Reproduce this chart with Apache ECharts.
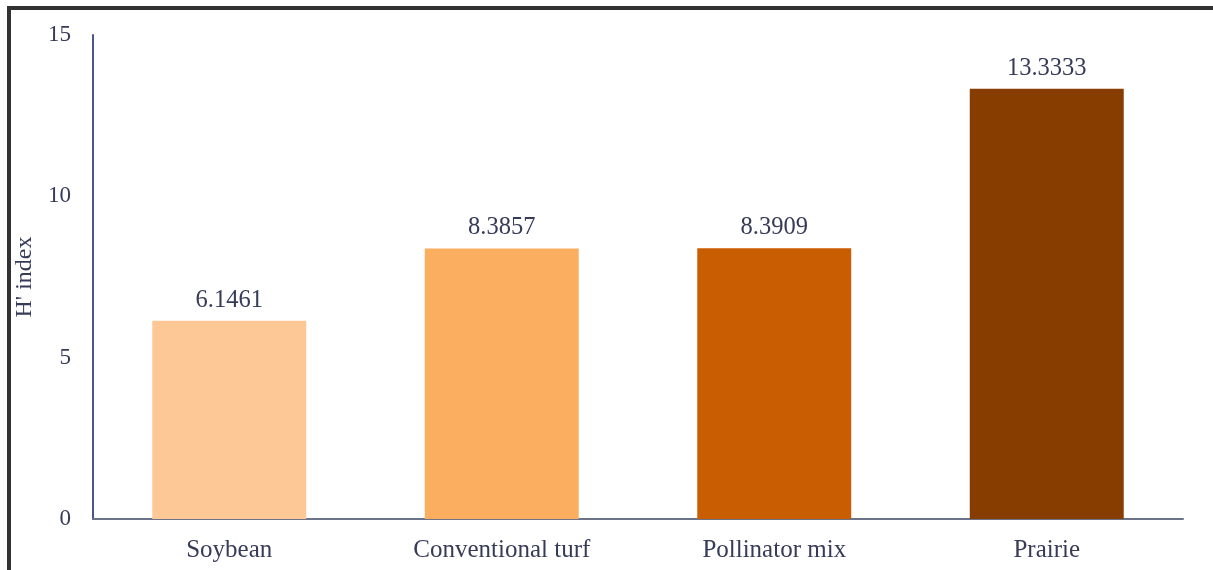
<!DOCTYPE html>
<html>
<head>
<meta charset="utf-8">
<script src="https://cdn.jsdelivr.net/npm/echarts@6/dist/echarts.min.js"></script>
<style>
  html, body { margin: 0; padding: 0; background: #fff; overflow: hidden; }
  #chart { position: absolute; left: 0; top: 0; width: 1213px; height: 570px; }
  #frame { position: absolute; left: 7px; top: 6px; width: 1220px; height: 600px;
           border-top: 4px solid #333; border-left: 4px solid #333; pointer-events: none; }
</style>
</head>
<body>
<div id="chart"></div>
<div id="frame"></div>
<script>
const categories = ['Soybean', 'Conventional turf', 'Pollinator mix', 'Prairie'];
const values = [6.1461, 8.3857, 8.3909, 13.3333];
const barColors = ['#FDC896', '#FCAE60', '#C85D02', '#873D00'];
const yTicks = { min: 0, max: 15, interval: 5 };
const yAxisTitle = "H' index";

const FONT = "'Liberation Serif', 'Times New Roman', serif";
const TEXT = '#363b58';

const chart = echarts.init(document.getElementById('chart'), null, { renderer: 'canvas' });
chart.setOption({
  animation: false,
  backgroundColor: 'transparent',
  grid: { left: 93, right: 30, top: 35, bottom: 51 },
  xAxis: {
    type: 'category',
    data: categories,
    axisLine: { lineStyle: { color: '#6b7388', width: 2 } },
    axisTick: { show: false },
    axisLabel: { color: TEXT, fontFamily: FONT, fontSize: 25, margin: 19 }
  },
  yAxis: {
    type: 'value',
    min: yTicks.min, max: yTicks.max, interval: yTicks.interval,
    name: yAxisTitle,
    nameLocation: 'middle',
    nameGap: 55,
    nameTextStyle: { color: TEXT, fontFamily: FONT, fontSize: 24 },
    axisLine: { show: true, lineStyle: { color: '#4a5588', width: 2 } },
    axisTick: { show: false },
    splitLine: { show: false },
    axisLabel: { color: TEXT, fontFamily: FONT, fontSize: 23, margin: 22, padding: [5, 0, 0, 0] }
  },
  series: [{
    type: 'bar',
    data: values.map((v, i) => ({ value: v, itemStyle: { color: barColors[i] } })),
    barWidth: '56.5%',
    label: {
      show: true, position: 'top', distance: 8,
      color: TEXT, fontFamily: FONT, fontSize: 24.5,
      formatter: p => String(p.value)
    }
  }]
});
</script>
</body>
</html>
